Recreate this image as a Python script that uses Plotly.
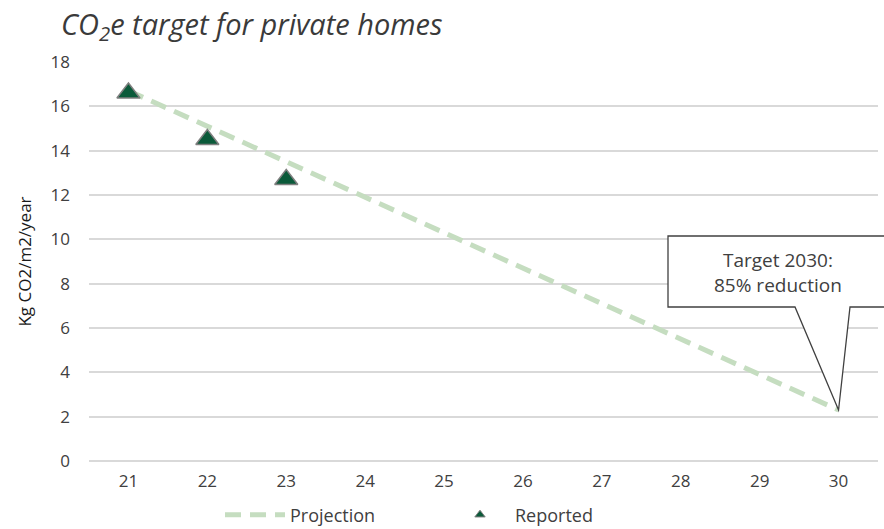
import plotly.graph_objects as go

# Years (two-digit labels) and emission intensities, kg CO2e per m2 per year
years = ["21", "22", "23", "24", "25", "26", "27", "28", "29", "30"]
projection_years = ["21", "30"]
projection_values = [16.7, 2.3]
reported_years = ["21", "22", "23"]
reported_values = [16.6, 14.5, 12.7]

callout_text = "Target 2030:<br>85% reduction"

FONT = "Open Sans"
TEXT = "#404040"
GRID = "#d9d9d9"
LINE_GREEN = "#c5ddc0"
MARK_GREEN = "#0b5a3a"

W, H = 884, 529
ML, MR, MT, MB = 89, 6, 62, 68
Y_MAX = 18

fig = go.Figure()

fig.add_trace(go.Scatter(
    x=projection_years, y=projection_values, mode="lines", name="Projection",
    line=dict(color=LINE_GREEN, width=5, dash="16px,9px"),
))
fig.add_trace(go.Scatter(
    x=reported_years, y=reported_values, mode="markers", name="Reported",
    showlegend=False,
    marker=dict(symbol="triangle-up", size=20, color=MARK_GREEN,
                line=dict(color="#7f7f7f", width=1.5)),
))
# small legend swatch for the reported series
fig.add_trace(go.Scatter(
    x=[None], y=[None], mode="markers", name="Reported",
    marker=dict(symbol="triangle-up", size=9, color=MARK_GREEN,
                line=dict(color="#7f7f7f", width=1)),
))

# speech-bubble callout pointing at the 2030 projection value
plot_w = W - ML - MR
plot_h = H - MT - MB
cat_w = plot_w / len(years)


def px_to_paper_x(px):
    return (px - ML) / plot_w


def data_to_paper_x(cat):
    return (years.index(cat) + 0.5) * cat_w / plot_w


def px_to_paper_y(py):
    return (H - MB - py) / plot_h


tip_x = data_to_paper_x(projection_years[-1])
tip_y = projection_values[-1] / Y_MAX
bx0, bx1 = px_to_paper_x(668), px_to_paper_x(890)
by0, by1 = px_to_paper_y(307), px_to_paper_y(236)
p0, p1 = px_to_paper_x(795), px_to_paper_x(850)
path = (f"M {bx0},{by1} L {bx1},{by1} L {bx1},{by0} L {p1},{by0} "
        f"L {tip_x},{tip_y} L {p0},{by0} L {bx0},{by0} Z")
fig.add_shape(type="path", path=path, xref="paper", yref="paper",
              line=dict(color="#404040", width=1.3), fillcolor="white",
              layer="above")
fig.add_annotation(
    x=px_to_paper_x(778), y=px_to_paper_y(272), xref="paper", yref="paper",
    xanchor="center", yanchor="middle",
    text=callout_text, showarrow=False, align="center",
    font=dict(family=FONT, size=19, color=TEXT),
)

fig.add_annotation(
    x=px_to_paper_x(59), y=px_to_paper_y(25), xref="paper", yref="paper",
    xanchor="left", yanchor="middle", showarrow=False,
    text="<i>CO<sub>2</sub>e target for private homes</i>",
    font=dict(family=FONT, size=29, color="#3a3a3a"),
)

fig.update_layout(
    width=W, height=H,
    margin=dict(l=ML, r=MR, t=MT, b=MB, autoexpand=False),
    paper_bgcolor="white", plot_bgcolor="white",
    font=dict(family=FONT, size=17, color=TEXT),
    showlegend=True,
    legend=dict(orientation="h", xref="container", x=220 / W, xanchor="left",
                yref="container", y=(H - 515) / H, yanchor="middle",
                font=dict(family=FONT, size=18, color=TEXT),
                entrywidth=150, entrywidthmode="pixels",
                itemwidth=60, traceorder="normal"),
    xaxis=dict(type="category", categoryorder="array", categoryarray=years,
               range=[-0.5, len(years) - 0.5], showgrid=False,
               zeroline=False, showline=False, ticks="",
               ticklabelstandoff=8, automargin=False,
               tickfont=dict(family=FONT, size=17, color=TEXT)),
    yaxis=dict(range=[0, Y_MAX], dtick=2, showgrid=True, gridcolor=GRID,
               gridwidth=1.5, zeroline=True, zerolinecolor=GRID,
               zerolinewidth=1.5, showline=False, ticks="",
               ticklabelstandoff=18, automargin=False,
               tickfont=dict(family=FONT, size=17, color=TEXT),
               title=dict(text="Kg CO2/m2/year", standoff=14,
                          font=dict(family=FONT, size=17, color="#1a1a1a"))),
)

fig.write_html("out.html")
